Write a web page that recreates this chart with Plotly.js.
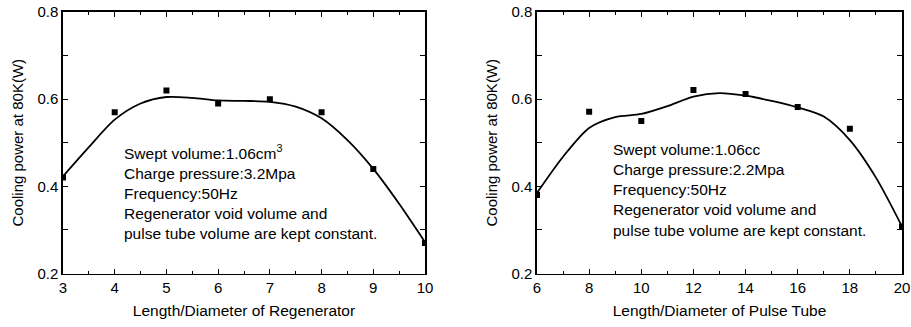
<!DOCTYPE html>
<html><head><meta charset="utf-8">
<script src="https://cdn.plot.ly/plotly-3.0.1.min.js"></script>
<style>html,body{margin:0;padding:0;background:#fff}#c{width:911px;height:327px}</style>
</head><body><div id="c"></div>
<script>
// Left panel: Regenerator
const regX = [3, 4, 5, 6, 7, 8, 9, 10];
const regY = [0.42, 0.57, 0.62, 0.59, 0.60, 0.57, 0.44, 0.27];
const regCurveX = [3, 3.5, 4, 4.5, 5, 5.5, 6, 6.5, 7, 7.5, 8, 8.5, 9, 9.5, 10];
const regCurveY = [0.423, 0.49, 0.553, 0.59, 0.605, 0.603, 0.597, 0.596, 0.594, 0.583, 0.556, 0.506, 0.44, 0.36, 0.272];
// Right panel: Pulse tube
const ptX = [6, 8, 10, 12, 14, 16, 18, 20];
const ptY = [0.38, 0.571, 0.55, 0.621, 0.612, 0.582, 0.532, 0.308];
const ptCurveX = [6, 7, 8, 9, 10, 11, 12, 13, 14, 15, 16, 17, 18, 19, 20];
const ptCurveY = [0.385, 0.468, 0.534, 0.559, 0.566, 0.584, 0.606, 0.614, 0.608, 0.596, 0.581, 0.56, 0.506, 0.42, 0.308];
const yTicks = [0.2, 0.4, 0.6, 0.8];
const yTickText = ['0.2', '0.4', '0.6', '0.8'];
const regTicks = [3, 4, 5, 6, 7, 8, 9, 10];
const ptTicks = [6, 8, 10, 12, 14, 16, 18, 20];
const yTitle = 'Cooling power at 80K(W)';
const regXTitle = 'Length/Diameter of Regenerator';
const ptXTitle = 'Length/Diameter of Pulse Tube';
const regNote = ['Swept volume:1.06cm<sup>3</sup>', 'Charge pressure:3.2Mpa', 'Frequency:50Hz', 'Regenerator void volume and', 'pulse tube volume are kept constant.'];
const ptNote = ['Swept volume:1.06cc', 'Charge pressure:2.2Mpa', 'Frequency:50Hz', 'Regenerator void volume and', 'pulse tube volume are kept constant.'];

const FONT = 'Liberation Sans, Arial, Helvetica, sans-serif';
const mk = {symbol: 'square', size: 6, color: '#000'};
const traces = [
  {x: regCurveX, y: regCurveY, mode: 'lines', line: {color: '#000', width: 1.8, shape: 'spline', smoothing: 0.8}, xaxis: 'x', yaxis: 'y', hoverinfo: 'skip'},
  {x: regX, y: regY, mode: 'markers', marker: mk, xaxis: 'x', yaxis: 'y', cliponaxis: true},
  {x: ptCurveX, y: ptCurveY, mode: 'lines', line: {color: '#000', width: 1.8, shape: 'spline', smoothing: 0.8}, xaxis: 'x2', yaxis: 'y2', hoverinfo: 'skip'},
  {x: ptX, y: ptY, mode: 'markers', marker: mk, xaxis: 'x2', yaxis: 'y2', cliponaxis: true}
];
const yDom = [1 - 273.5 / 327, 1 - 12 / 327];
function xa(dom, range, ticks, title) {
  return {domain: dom, range: range, tickvals: ticks, ticktext: ticks.map(String),
    ticks: 'inside', ticklen: 5, tickwidth: 1.2, tickcolor: '#000',
    minor: {ticks: 'inside', ticklen: 3, tickwidth: 1, tickcolor: '#000', dtick: (ticks[1]-ticks[0])/2, tick0: ticks[0]},
    showline: true, linecolor: '#000', linewidth: 1.6, mirror: 'ticks', showgrid: false, zeroline: false,
    tickfont: {family: FONT, size: 15, color: '#000'},
    title: {text: title, font: {family: FONT, size: 15.5, color: '#000'}, standoff: 10}, automargin: false, fixedrange: true};
}
function ya(dom, anchor) {
  return {domain: dom, range: [0.2, 0.8], tickvals: yTicks, ticktext: yTickText, anchor: anchor,
    ticks: 'inside', ticklen: 5, tickwidth: 1.2, tickcolor: '#000',
    minor: {ticks: 'inside', ticklen: 5, tickwidth: 1, tickcolor: '#000', dtick: 0.1, tick0: 0.2},
    showline: true, linecolor: '#000', linewidth: 1.6, mirror: 'ticks', showgrid: false, zeroline: false,
    tickfont: {family: FONT, size: 15, color: '#000'},
    title: {text: yTitle, font: {family: FONT, size: 15, color: '#000'}, standoff: 10}, automargin: false, fixedrange: true};
}
const layout = {
  width: 911, height: 327, margin: {l: 0, r: 0, t: 0, b: 0},
  paper_bgcolor: '#fff', plot_bgcolor: '#fff', showlegend: false,
  font: {family: FONT, color: '#000'},
  xaxis: Object.assign(xa([63/911, 425/911], [3, 10], regTicks, regXTitle), {anchor: 'y'}),
  yaxis: ya(yDom, 'x'),
  xaxis2: Object.assign(xa([537/911, 902/911], [6, 20], ptTicks, ptXTitle), {anchor: 'y2'}),
  yaxis2: ya(yDom, 'x2'),
  annotations: [
    {xref: 'x', yref: 'y', x: 4.14, y: 0.386, xanchor: 'left', yanchor: 'middle', align: 'left', showarrow: false,
     text: regNote.join('<br>'), font: {family: FONT, size: 15.5, color: '#000'}},
    {xref: 'x2', yref: 'y2', x: 8.85, y: 0.392, xanchor: 'left', yanchor: 'middle', align: 'left', showarrow: false,
     text: ptNote.join('<br>'), font: {family: FONT, size: 15.5, color: '#000'}}
  ]
};
Plotly.newPlot('c', traces, layout, {staticPlot: true, displayModeBar: false});
</script></body></html>
